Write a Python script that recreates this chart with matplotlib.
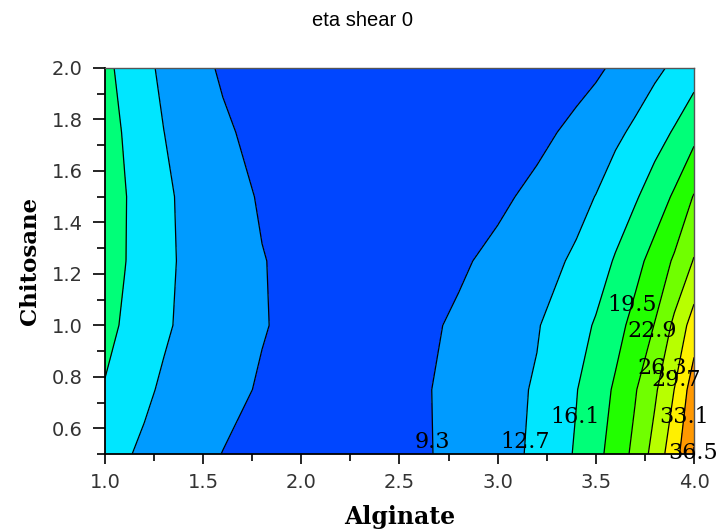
import numpy as np
import matplotlib
matplotlib.use("Agg")
import matplotlib.pyplot as plt
from matplotlib.ticker import MultipleLocator, FormatStrFormatter

# grid of the fitted response (eta at shear 0)
alginate = [1.0, 1.1, 1.2, 1.3, 1.4, 1.6, 1.8, 2.0, 2.2, 2.4, 2.6,
            2.8, 3.0, 3.2, 3.4, 3.5, 3.6, 3.7, 3.8, 3.9, 4.0]
chitosane = [0.5, 0.75, 1.0, 1.25, 1.5, 1.75, 2.0]

eta_050 = [14.0, 13.0, 12.22, 11.47, 10.73, 9.24, 8.3, 7.8, 7.6, 7.8, 8.8,
           10.22, 11.66, 13.2, 16.43, 18.52, 20.91, 23.79, 27.53, 31.78, 36.7]
eta_075 = [15.9, 14.56, 13.21, 12.29, 11.62, 10.28, 8.98, 8.0, 7.6, 7.8, 8.86,
           10.23, 11.6, 13.0, 15.96, 17.87, 19.96, 22.63, 25.76, 29.75, 34.93]
eta_100 = [17.03, 15.72, 14.41, 13.1, 12.23, 10.86, 9.49, 8.44, 8.0, 7.9, 8.5,
           9.83, 11.16, 12.48, 14.95, 16.39, 18.36, 20.53, 23.02, 27.02, 31.27]
eta_125 = [17.5, 16.2, 14.78, 13.37, 12.32, 10.86, 9.41, 8.5, 7.9, 7.6, 7.8,
           8.77, 10.22, 11.66, 13.1, 14.6, 16.39, 18.45, 20.73, 23.35, 26.52]
eta_150 = [17.6, 16.25, 14.77, 13.29, 12.2, 10.54, 9.0, 8.1, 7.6, 7.3, 7.3,
           7.7, 8.56, 10.23, 11.9, 12.76, 14.24, 15.73, 17.68, 19.95, 23.12]
eta_175 = [17.4, 15.86, 14.28, 12.72, 11.74, 9.81, 8.27, 7.6, 7.2, 7.0, 7.0,
           7.1, 7.4, 8.33, 10.21, 11.16, 12.1, 13.25, 14.78, 16.4, 18.5]
eta_200 = [16.9, 15.18, 13.47, 12.08, 10.95, 8.88, 7.6, 7.0, 6.7, 6.5, 6.5,
           6.6, 6.9, 7.3, 7.9, 8.75, 9.85, 10.95, 12.04, 13.26, 14.66]

levels = [5.9, 9.3, 12.7, 16.1, 19.5, 22.9, 26.3, 29.7, 33.1, 36.5, 39.9]
band_colors = ["#0046ff", "#009bff", "#00e6ff", "#00ff78", "#22ff00",
               "#70ff00", "#b8ff00", "#fff000", "#ff9800", "#ff3000"]

# where the line labels sit (nearest contour point is used)
label_spots = [(2.666, 0.547), (3.144, 0.547), (3.394, 0.644),
               (3.684, 1.079), (3.776, 0.982), (3.832, 0.834),
               (3.908, 0.788), (3.939, 0.644), (3.985, 0.504)]

X, Y = np.meshgrid(alginate, chitosane)
Z = np.array([eta_050, eta_075, eta_100, eta_125, eta_150, eta_175, eta_200])

fig = plt.figure(figsize=(7.2, 5.29), dpi=100)
ax = fig.add_axes([0.1458, 0.1418, 0.8181, 0.7297])

ax.contourf(X, Y, Z, levels=levels, colors=band_colors)
cs = ax.contour(X, Y, Z, levels=levels[1:-1], colors="black", linewidths=0.9)
labels = ax.clabel(cs, fmt="%.1f", inline=False, manual=label_spots, fontsize=16)
for t in labels:
    t.set_rotation(0)
    t.set_family("DejaVu Serif")
    t.set_color("black")
    t.set_clip_on(False)
    t.set_zorder(5)

ax.set_xlim(1.0, 4.0)
ax.set_ylim(0.5, 2.0)
ax.xaxis.set_major_locator(MultipleLocator(0.5))
ax.xaxis.set_minor_locator(MultipleLocator(0.25))
ax.yaxis.set_minor_locator(MultipleLocator(0.1))
ax.set_yticks([0.6, 0.8, 1.0, 1.2, 1.4, 1.6, 1.8, 2.0])
ax.xaxis.set_major_formatter(FormatStrFormatter("%.1f"))
ax.yaxis.set_major_formatter(FormatStrFormatter("%.1f"))

ax.tick_params(which="major", direction="out", length=9, width=1.2,
               labelsize=14, labelcolor="#333333", pad=7)
ax.tick_params(which="minor", direction="out", length=6, width=1.2)
ax.tick_params(axis="x", which="major", length=7)
ax.tick_params(axis="x", which="minor", length=5)
ax.tick_params(top=False, right=False, which="both")

for side in ["left", "bottom"]:
    ax.spines[side].set_linewidth(1.3)
    ax.spines[side].set_color("black")
for side in ["top", "right"]:
    ax.spines[side].set_linewidth(1.0)
    ax.spines[side].set_color("#555555")

ax.set_xlabel("Alginate", family="DejaVu Serif", fontweight="bold",
              fontsize=17, labelpad=9)
ax.set_ylabel("Chitosane", family="DejaVu Serif", fontweight="bold",
              fontsize=16.5, labelpad=8)
fig.text(0.503, 0.962, "eta shear 0", ha="center", va="center",
         family="Liberation Sans", fontsize=14.5)

fig.savefig("out.png", dpi=100)
